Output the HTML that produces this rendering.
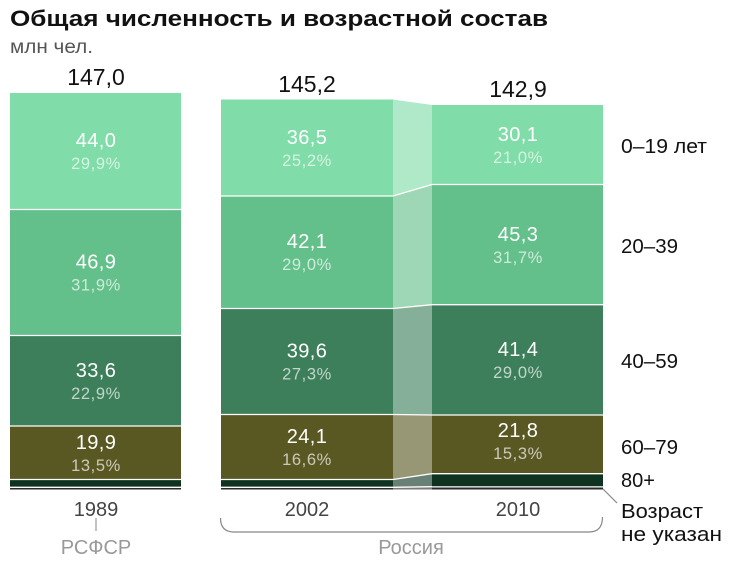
<!DOCTYPE html>
<html>
<head>
<meta charset="utf-8">
<style>
html,body{margin:0;padding:0;background:#fff;}
svg{display:block;}
text{font-family:"Liberation Sans","Noto Sans CJK SC",sans-serif;}
</style>
</head>
<body>
<svg width="740" height="578" viewBox="0 0 740 578" xmlns="http://www.w3.org/2000/svg">
  <!-- Title -->
  <text x="10" y="26" font-size="22" font-weight="bold" fill="#111" textLength="538" lengthAdjust="spacingAndGlyphs">Общая численность и возрастной состав</text>
  <text x="10" y="53" font-size="19" fill="#555" textLength="83" lengthAdjust="spacingAndGlyphs">млн чел.</text>

  <!-- Totals -->
  <text x="96" y="85" font-size="23" fill="#111" text-anchor="middle">147,0</text>
  <text x="307" y="92" font-size="23" fill="#111" text-anchor="middle">145,2</text>
  <text x="518" y="97" font-size="23" fill="#111" text-anchor="middle">142,9</text>

  <!-- 1989 bar -->
  <g>
    <rect x="10" y="93" width="171" height="116.5" fill="#80dca8"/>
    <rect x="10" y="209.5" width="171" height="126" fill="#63c08b"/>
    <rect x="10" y="335.5" width="171" height="90.5" fill="#3c7f5a"/>
    <rect x="10" y="426" width="171" height="53.5" fill="#5a5822"/>
    <rect x="10" y="479.5" width="171" height="8" fill="#0e3320"/>
    <rect x="10" y="487.5" width="171" height="2" fill="#2a2a2a"/>
    <g stroke="#fff" stroke-width="1.3">
      <line x1="10" y1="209.5" x2="181" y2="209.5"/>
      <line x1="10" y1="335.5" x2="181" y2="335.5"/>
      <line x1="10" y1="426" x2="181" y2="426"/>
      <line x1="10" y1="479.5" x2="181" y2="479.5"/>
      <line x1="10" y1="487.3" x2="181" y2="487.3"/>
    </g>
  </g>

  <!-- connector 2002 -> 2010 -->
  <g opacity="0.62">
    <polygon points="393,99.5 432,105 432,184.5 393,196" fill="#80dca8"/>
    <polygon points="393,196 432,184.5 432,304.7 393,308.5" fill="#63c08b"/>
    <polygon points="393,308.5 432,304.7 432,415 393,414.5" fill="#3c7f5a"/>
    <polygon points="393,414.5 432,415 432,473.7 393,479.5" fill="#5a5822"/>
    <polygon points="393,479.5 432,473.7 432,486.7 393,487.3" fill="#0e3320"/>
    <polygon points="393,487.3 432,486.7 432,489.5 393,489.5" fill="#2a2a2a"/>
  </g>
  <g stroke="#fff" stroke-width="1.3">
    <line x1="393" y1="196" x2="432" y2="184.5"/>
    <line x1="393" y1="308.5" x2="432" y2="304.7"/>
    <line x1="393" y1="414.5" x2="432" y2="415"/>
    <line x1="393" y1="479.5" x2="432" y2="473.7"/>
    <line x1="393" y1="487.3" x2="432" y2="486.7"/>
  </g>

  <!-- 2002 bar -->
  <g>
    <rect x="221" y="99.5" width="172" height="96.5" fill="#80dca8"/>
    <rect x="221" y="196" width="172" height="112.5" fill="#63c08b"/>
    <rect x="221" y="308.5" width="172" height="106" fill="#3c7f5a"/>
    <rect x="221" y="414.5" width="172" height="65" fill="#5a5822"/>
    <rect x="221" y="479.5" width="172" height="8" fill="#0e3320"/>
    <rect x="221" y="487.3" width="172" height="2.2" fill="#2a2a2a"/>
    <g stroke="#fff" stroke-width="1.3">
      <line x1="221" y1="196" x2="393" y2="196"/>
      <line x1="221" y1="308.5" x2="393" y2="308.5"/>
      <line x1="221" y1="414.5" x2="393" y2="414.5"/>
      <line x1="221" y1="479.5" x2="393" y2="479.5"/>
      <line x1="221" y1="487.3" x2="393" y2="487.3"/>
    </g>
  </g>

  <!-- 2010 bar -->
  <g>
    <rect x="432" y="105" width="171" height="79.5" fill="#80dca8"/>
    <rect x="432" y="184.5" width="171" height="120.2" fill="#63c08b"/>
    <rect x="432" y="304.7" width="171" height="110.3" fill="#3c7f5a"/>
    <rect x="432" y="415" width="171" height="58.7" fill="#5a5822"/>
    <rect x="432" y="473.7" width="171" height="13" fill="#0e3320"/>
    <rect x="432" y="486.7" width="171" height="2.8" fill="#2a2a2a"/>
    <g stroke="#fff" stroke-width="1.3">
      <line x1="432" y1="184.5" x2="603" y2="184.5"/>
      <line x1="432" y1="304.7" x2="603" y2="304.7"/>
      <line x1="432" y1="415" x2="603" y2="415"/>
      <line x1="432" y1="473.7" x2="603" y2="473.7"/>
      <line x1="432" y1="486.9" x2="603" y2="486.9"/>
    </g>
  </g>

  <!-- segment labels -->
  <g text-anchor="middle">
    <g font-size="20" fill="#fff" letter-spacing="0.4">
      <text x="96" y="147">44,0</text>
      <text x="96" y="268.5">46,9</text>
      <text x="96" y="377">33,6</text>
      <text x="96" y="449">19,9</text>

      <text x="307" y="144">36,5</text>
      <text x="307" y="248">42,1</text>
      <text x="307" y="357.5">39,6</text>
      <text x="307" y="443">24,1</text>

      <text x="518" y="141">30,1</text>
      <text x="518" y="241">45,3</text>
      <text x="518" y="356">41,4</text>
      <text x="518" y="437">21,8</text>
    </g>
    <g font-size="16.5" fill="#fff" fill-opacity="0.68" letter-spacing="0.6">
      <text x="96" y="169">29,9%</text>
      <text x="96" y="290.5">31,9%</text>
      <text x="96" y="399">22,9%</text>
      <text x="96" y="471">13,5%</text>

      <text x="307" y="166">25,2%</text>
      <text x="307" y="270">29,0%</text>
      <text x="307" y="379.5">27,3%</text>
      <text x="307" y="465">16,6%</text>

      <text x="518" y="163">21,0%</text>
      <text x="518" y="263">31,7%</text>
      <text x="518" y="378">29,0%</text>
      <text x="518" y="459">15,3%</text>
    </g>
  </g>

  <!-- right labels -->
  <g font-size="20" fill="#111">
    <text x="621" y="153" textLength="86" lengthAdjust="spacingAndGlyphs">0–19 лет</text>
    <text x="621" y="253" textLength="57" lengthAdjust="spacingAndGlyphs">20–39</text>
    <text x="621" y="368" textLength="57" lengthAdjust="spacingAndGlyphs">40–59</text>
    <text x="621" y="454" textLength="57" lengthAdjust="spacingAndGlyphs">60–79</text>
    <text x="621" y="487">80+</text>
    <text x="621" y="518" textLength="82" lengthAdjust="spacingAndGlyphs">Возраст</text>
    <text x="621" y="541" textLength="101" lengthAdjust="spacingAndGlyphs">не указан</text>
  </g>
  <line x1="603" y1="489" x2="617" y2="503" stroke="#888" stroke-width="1.2"/>

  <!-- bottom labels -->
  <g font-size="20" text-anchor="middle">
    <text x="96" y="516" fill="#444">1989</text>
    <text x="307" y="516" fill="#444">2002</text>
    <text x="518" y="516" fill="#444">2010</text>
    <text x="96" y="554" fill="#999">РСФСР</text>
    <text x="411" y="554" fill="#999">Россия</text>
  </g>
  <line x1="96" y1="518" x2="96" y2="531" stroke="#999" stroke-width="1.2"/>
  <path d="M220.5,518 Q220.5,532 234,532 L589,532 Q602.5,532 602.5,517" fill="none" stroke="#888" stroke-width="1.2"/>
</svg>
</body>
</html>
